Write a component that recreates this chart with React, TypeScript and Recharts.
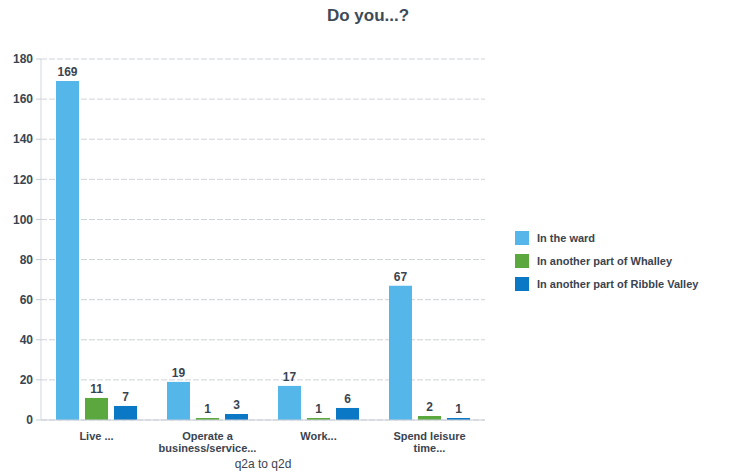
import React from 'react';
import { BarChart, Bar, XAxis, YAxis, CartesianGrid, Legend, LabelList } from 'recharts';

const categories = ['Live ...', 'Operate a\nbusiness/service...', 'Work...', 'Spend leisure\ntime...'];
const inTheWard = [169, 19, 17, 67];
const otherWhalley = [11, 1, 1, 2];
const otherRibble = [7, 3, 6, 1];
const yTicks = [0, 20, 40, 60, 80, 100, 120, 140, 160, 180];

const seriesNames = ['In the ward', 'In another part of Whalley', 'In another part of Ribble Valley'];
const seriesColors = ['#55b6ea', '#5aa83e', '#0a78c4'];

const rows = categories.map((c, i) => ({
  cat: c,
  ward: inTheWard[i],
  whalley: otherWhalley[i],
  ribble: otherRibble[i],
}));

const FONT = '"Liberation Sans", Arial, sans-serif';
const TEXT = '#3a4450';

function CatTick(props: any) {
  const { x, y, payload } = props;
  const lines = String(payload.value).split('\n');
  return (
    <text x={x} y={y} textAnchor="middle" fontFamily={FONT} fontSize={11} fontWeight={600} fill={TEXT}>
      {lines.map((l, i) => (
        <tspan key={i} x={x} dy={12}>{l}</tspan>
      ))}
    </text>
  );
}

function LegendBox() {
  return (
    <div style={{ width: 220, paddingLeft: 15, fontFamily: FONT, fontSize: 11, fontWeight: 600, color: TEXT }}>
      {seriesNames.map((n, i) => (
        <div key={n} style={{ display: 'flex', alignItems: 'center', height: 23 }}>
          <span style={{ width: 14, height: 14, background: seriesColors[i], marginRight: 8, display: 'inline-block' }} />
          <span>{n}</span>
        </div>
      ))}
    </div>
  );
}

export default function App() {
  return (
    <div style={{ position: 'absolute', left: 0, top: 0, width: 736, height: 476, background: '#fff' }}>
      <div style={{ position: 'absolute', left: 0, top: 6, width: 736, textAlign: 'center', fontFamily: FONT, fontSize: 17, color: '#3d4a57', fontWeight: 600 }}>
        Do you...?
      </div>
      <BarChart width={736} height={476} data={rows}
                margin={{ top: 59, right: 16, left: 0, bottom: 8 }}
                barCategoryGap={15} barGap={6}>
        <CartesianGrid vertical={false} stroke="#cfd3da" strokeDasharray="6 2" />
        <XAxis dataKey="cat" tick={<CatTick />} tickLine={false} height={48}
               axisLine={{ stroke: '#c9ced6' }}
               label={{ value: 'q2a to q2d', position: 'insideBottom', offset: 0, fontSize: 12, fill: TEXT, fontFamily: FONT }} />
        <YAxis width={41} domain={[0, 180]} ticks={yTicks} interval={0}
               tickSize={5} tickMargin={3}
               tick={{ fontSize: 12, fill: TEXT, fontFamily: FONT, fontWeight: 700 }}
               tickLine={{ stroke: '#c9ced6' }} axisLine={{ stroke: '#d3d7de' }} />
        <Legend layout="vertical" align="right" verticalAlign="middle" content={<LegendBox />}
                wrapperStyle={{ top: 226, left: 500 }} />
        <Bar dataKey="ward" name={seriesNames[0]} fill={seriesColors[0]} isAnimationActive={false}>
          <LabelList dataKey="ward" position="top" fontSize={12} fill={TEXT} fontWeight={700} fontFamily={FONT} />
        </Bar>
        <Bar dataKey="whalley" name={seriesNames[1]} fill={seriesColors[1]} isAnimationActive={false}>
          <LabelList dataKey="whalley" position="top" fontSize={12} fill={TEXT} fontWeight={700} fontFamily={FONT} />
        </Bar>
        <Bar dataKey="ribble" name={seriesNames[2]} fill={seriesColors[2]} isAnimationActive={false}>
          <LabelList dataKey="ribble" position="top" fontSize={12} fill={TEXT} fontWeight={700} fontFamily={FONT} />
        </Bar>
      </BarChart>
    </div>
  );
}
